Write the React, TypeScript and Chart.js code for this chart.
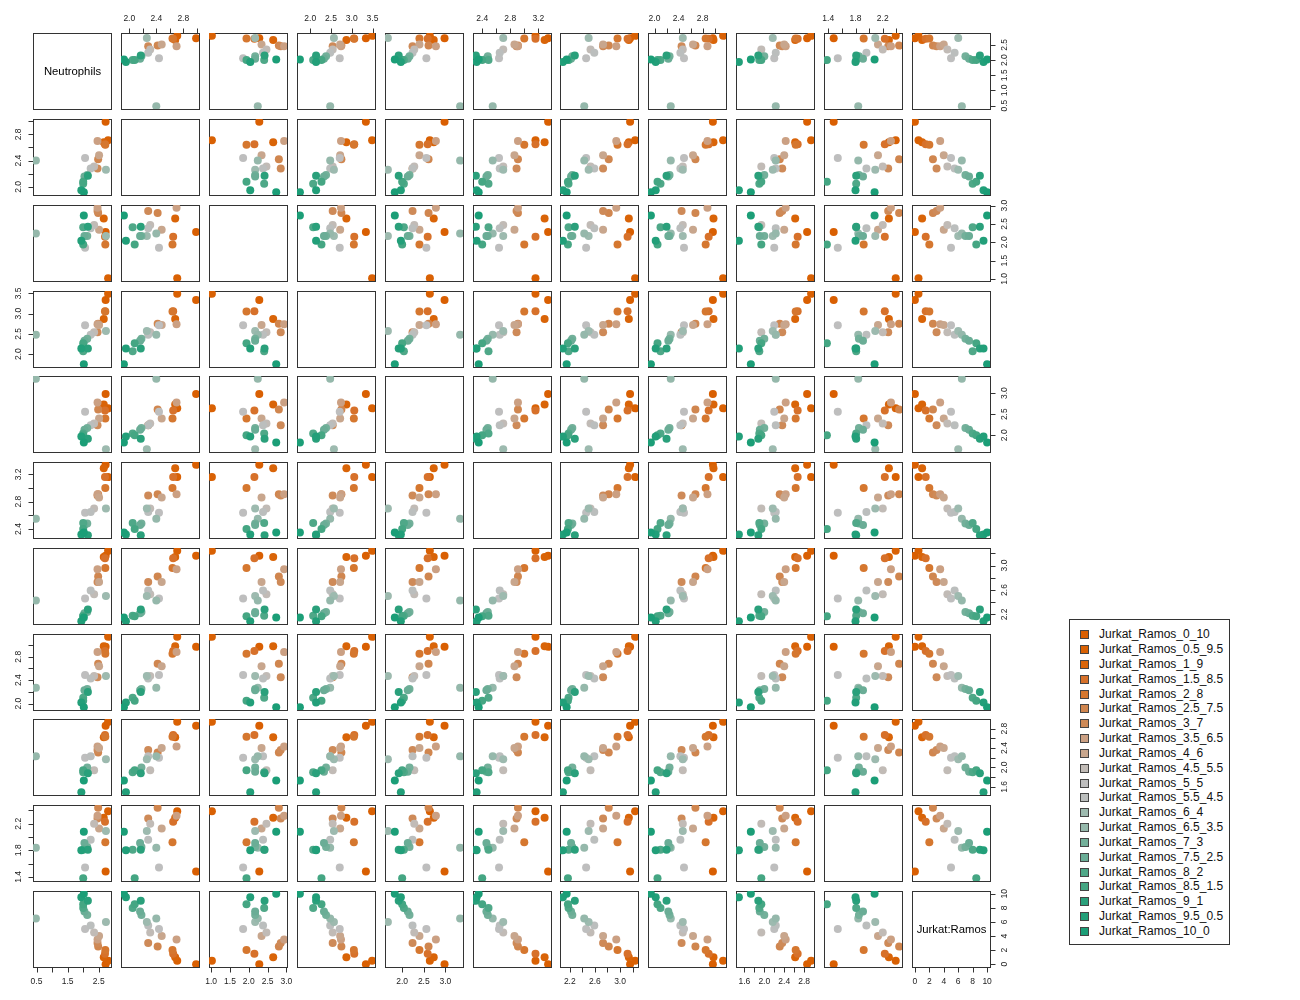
import React, { useEffect, useRef } from "react";
import { Chart, registerables } from "chart.js";

Chart.register(...registerables);

// ---------- data ----------
const groupNames = [
  "Jurkat_Ramos_0_10", "Jurkat_Ramos_0.5_9.5", "Jurkat_Ramos_1_9", "Jurkat_Ramos_1.5_8.5",
  "Jurkat_Ramos_2_8", "Jurkat_Ramos_2.5_7.5", "Jurkat_Ramos_3_7", "Jurkat_Ramos_3.5_6.5",
  "Jurkat_Ramos_4_6", "Jurkat_Ramos_4.5_5.5", "Jurkat_Ramos_5_5", "Jurkat_Ramos_5.5_4.5",
  "Jurkat_Ramos_6_4", "Jurkat_Ramos_6.5_3.5", "Jurkat_Ramos_7_3", "Jurkat_Ramos_7.5_2.5",
  "Jurkat_Ramos_8_2", "Jurkat_Ramos_8.5_1.5", "Jurkat_Ramos_9_1", "Jurkat_Ramos_9.5_0.5",
  "Jurkat_Ramos_10_0",
];

const groupColors = [
  "#D95F02", "#D96104", "#D96408", "#D7712A", "#D5772F", "#D0864F", "#CE8A58",
  "#CBA083", "#C8A68D", "#C1BBB6", "#BEBEBE", "#BBBEBD", "#9DBAAF", "#95B8AB",
  "#73B09A", "#6AAD96", "#4FA888", "#45A683", "#2AA07B", "#229F79", "#1B9E77",
];

const neutrophils = [2.72, 2.8, 2.66, 2.7, 2.71, 2.48, 2.46, 2.46, 2.51, 2.35, 2.06, 2.24, 2.73, 0.48, 2.13, 2.04, 2.0, 2.0, 2.15, 1.94, 2.02];
const marker2 = [2.99, 2.71, 2.68, 2.65, 2.64, 2.42, 2.28, 2.7, 2.48, 2.31, 2.44, 2.28, 2.26, 2.4, 2.18, 2.16, 2.05, 2.08, 2.17, 1.95, 1.92];
const marker3 = [2.28, 1.02, 2.65, 2.15, 1.94, 2.8, 2.85, 2.94, 2.34, 2.47, 1.85, 2.38, 2.17, 2.24, 2.17, 2.17, 2.41, 1.94, 2.42, 2.04, 2.73];
const marker4 = [3.34, 3.49, 2.87, 3.06, 3.05, 2.75, 2.54, 2.74, 2.72, 2.54, 2.71, 2.48, 2.57, 2.48, 2.38, 2.33, 2.07, 2.27, 2.14, 2.14, 1.75];
const marker5 = [2.98, 2.64, 2.73, 2.59, 2.4, 2.61, 2.24, 2.78, 2.4, 2.28, 2.56, 2.24, 1.67, 3.34, 2.17, 2.13, 2.04, 2.0, 1.92, 1.97, 1.83];
const marker6 = [3.34, 3.16, 3.29, 3.16, 3.0, 2.91, 2.89, 2.91, 2.86, 2.7, 2.64, 2.65, 2.7, 2.55, 2.48, 2.46, 2.49, 2.4, 2.31, 2.32, 2.35];
const marker7 = [3.16, 3.24, 3.14, 3.12, 2.96, 2.82, 2.73, 2.94, 2.73, 2.53, 2.46, 2.59, 2.5, 2.43, 2.24, 2.22, 2.18, 2.17, 2.28, 2.09, 2.15];
const marker8 = [2.97, 3.14, 2.98, 2.9, 2.85, 2.68, 2.45, 2.88, 2.64, 2.47, 2.49, 2.43, 2.47, 2.27, 2.25, 2.23, 2.1, 2.05, 2.2, 2.02, 1.94];
const marker9 = [2.86, 2.94, 2.62, 2.67, 2.63, 2.31, 2.36, 2.43, 2.4, 1.94, 2.2, 2.23, 2.17, 2.23, 2.0, 1.91, 1.9, 1.94, 1.88, 1.49, 1.73];
const marker10 = [1.48, 2.39, 2.29, 2.23, 1.92, 2.44, 2.28, 2.32, 2.13, 2.2, 1.54, 1.96, 2.09, 1.84, 1.85, 1.91, 1.81, 1.38, 1.81, 1.8, 2.08];
const jurkatRamos = [0, 0.5, 1, 1.5, 2, 2.5, 3, 3.5, 4, 4.5, 5, 5.5, 6, 6.5, 7, 7.5, 8, 8.5, 9, 9.5, 10];

const variables = [neutrophils, marker2, marker3, marker4, marker5, marker6, marker7, marker8, marker9, marker10, jurkatRamos];
const variableLabels = ["Neutrophils", "", "", "", "", "", "", "", "", "", "Jurkat:Ramos"];

const tickValues = [
  [0.5, 1, 1.5, 2, 2.5],
  [2.0, 2.2, 2.4, 2.6, 2.8, 3.0],
  [1.0, 1.5, 2.0, 2.5, 3.0],
  [2.0, 2.5, 3.0, 3.5],
  [2.0, 2.5, 3.0],
  [2.4, 2.6, 2.8, 3.0, 3.2],
  [2.2, 2.4, 2.6, 2.8, 3.0, 3.2],
  [2.0, 2.2, 2.4, 2.6, 2.8, 3.0],
  [1.6, 1.8, 2.0, 2.2, 2.4, 2.6, 2.8],
  [1.4, 1.6, 1.8, 2.0, 2.2, 2.4],
  [0, 2, 4, 6, 8, 10],
];
const xTickLabels = [
  ["0.5", "1.5", "2.5"],
  ["2.0", "2.4", "2.8"],
  ["1.0", "1.5", "2.0", "2.5", "3.0"],
  ["2.0", "2.5", "3.0", "3.5"],
  ["2.0", "2.5", "3.0"],
  ["2.4", "2.8", "3.2"],
  ["2.2", "2.6", "3.0"],
  ["2.0", "2.4", "2.8"],
  ["1.6", "2.0", "2.4", "2.8"],
  ["1.4", "1.8", "2.2"],
  ["0", "2", "4", "6", "8", "10"],
];
const yTickLabels = [
  ["0.5", "1.0", "1.5", "2.0", "2.5"],
  ["2.0", "2.4", "2.8"],
  ["1.0", "1.5", "2.0", "2.5", "3.0"],
  ["2.0", "2.5", "3.0", "3.5"],
  ["2.0", "2.5", "3.0"],
  ["2.4", "2.8", "3.2"],
  ["2.2", "2.6", "3.0"],
  ["2.0", "2.4", "2.8"],
  ["1.6", "2.0", "2.4", "2.8"],
  ["1.4", "1.8", "2.2"],
  ["0", "2", "4", "6", "8", "10"],
];

// ---------- layout ----------
const N = 11;
const PANEL_W = 78;
const PANEL_H = 76;
const M = 26;
const X0 = 33;
const Y0 = 33.3;
const DX = 87.9;
const DY = 85.75;
const FONT = '"Liberation Sans", Arial, Helvetica, sans-serif';

const panelLeft = (c: number) => Math.round(X0 + c * DX);
const panelTop = (r: number) => Math.round(Y0 + r * DY);

function usrRange(v: number[]) {
  const lo = Math.min(...v);
  const hi = Math.max(...v);
  const d = (hi - lo) * 0.04;
  return [lo - d, hi + d];
}

function makePanelPlugin(r: number, c: number) {
  return {
    id: "pairsPanel",
    beforeDatasetsDraw(chart: any) {
      const { ctx, chartArea: a } = chart;
      const xs = chart.scales.x;
      const ys = chart.scales.y;
      ctx.save();
      ctx.strokeStyle = "#333333";
      ctx.lineWidth = 1;
      ctx.strokeRect(a.left + 0.5, a.top + 0.5, a.right - a.left, a.bottom - a.top);

      if (r === c && variableLabels[r]) {
        ctx.fillStyle = "#000";
        ctx.font = `11.3px ${FONT}`;
        ctx.textAlign = "center";
        ctx.textBaseline = "middle";
        ctx.fillText(variableLabels[r], (a.left + a.right) / 2 + 0.5, (a.top + a.bottom) / 2 + 1);
      }

      ctx.fillStyle = "#222";
      ctx.strokeStyle = "#333333";
      ctx.font = `8.5px ${FONT}`;
      ctx.textAlign = "center";
      ctx.textBaseline = "middle";

      const topAxis = r === 0 && c % 2 === 1;
      const bottomAxis = r === N - 1 && c % 2 === 0;
      if (topAxis || bottomAxis) {
        const y0 = topAxis ? a.top + 0.5 : a.bottom + 0.5;
        const dir = topAxis ? -1 : 1;
        const ticks = tickValues[c].filter((v) => v >= xs.min && v <= xs.max);
        ctx.beginPath();
        ctx.moveTo(Math.round(xs.getPixelForValue(ticks[0])) + 0.5, y0);
        ctx.lineTo(Math.round(xs.getPixelForValue(ticks[ticks.length - 1])) + 0.5, y0);
        ticks.forEach((v) => {
          const px = Math.round(xs.getPixelForValue(v)) + 0.5;
          ctx.moveTo(px, y0);
          ctx.lineTo(px, y0 + dir * 5);
        });
        ctx.stroke();
        xTickLabels[c].forEach((s) => {
          const v = parseFloat(s);
          if (v < xs.min || v > xs.max) return;
          ctx.fillText(s, xs.getPixelForValue(v), y0 + dir * 14.5);
        });
      }

      const leftAxis = c === 0 && r % 2 === 1;
      const rightAxis = c === N - 1 && r % 2 === 0;
      if (leftAxis || rightAxis) {
        const x0 = leftAxis ? a.left + 0.5 : a.right + 0.5;
        const dir = leftAxis ? -1 : 1;
        const ticks = tickValues[r].filter((v) => v >= ys.min && v <= ys.max);
        ctx.beginPath();
        ctx.moveTo(x0, Math.round(ys.getPixelForValue(ticks[0])) + 0.5);
        ctx.lineTo(x0, Math.round(ys.getPixelForValue(ticks[ticks.length - 1])) + 0.5);
        ticks.forEach((v) => {
          const py = Math.round(ys.getPixelForValue(v)) + 0.5;
          ctx.moveTo(x0, py);
          ctx.lineTo(x0 + dir * 5, py);
        });
        ctx.stroke();
        yTickLabels[r].forEach((s) => {
          const v = parseFloat(s);
          if (v < ys.min || v > ys.max) return;
          ctx.save();
          ctx.translate(x0 + dir * 14.5, ys.getPixelForValue(v));
          ctx.rotate(-Math.PI / 2);
          ctx.fillText(s, 0, 0);
          ctx.restore();
        });
      }
      ctx.restore();
    },
  };
}

const panels: { r: number; c: number }[] = [];
for (let r = 0; r < N; r++) for (let c = 0; c < N; c++) panels.push({ r, c });

export default function App() {
  const canvasRefs = useRef<(HTMLCanvasElement | null)[]>([]);

  useEffect(() => {
    const charts: Chart[] = [];
    panels.forEach(({ r, c }, i) => {
      const canvas = canvasRefs.current[i];
      if (!canvas) return;
      const [xmin, xmax] = usrRange(variables[c]);
      const [ymin, ymax] = usrRange(variables[r]);
      const points = variables[c].map((xv, k) => ({ x: xv, y: variables[r][k] }));
      const chart = new Chart(canvas, {
        type: "scatter",
        data: {
          datasets:
            r === c
              ? []
              : [
                  {
                    data: points,
                    pointBackgroundColor: groupColors,
                    pointBorderWidth: 0,
                    pointRadius: 4,
                    pointHoverRadius: 4,
                    showLine: false,
                    clip: 0,
                  } as any,
                ],
        },
        options: {
          animation: false,
          responsive: false,
          devicePixelRatio: 1,
          events: [],
          layout: { padding: M },
          plugins: { legend: { display: false }, tooltip: { enabled: false } },
          scales: {
            x: { type: "linear", display: false, min: xmin, max: xmax },
            y: { type: "linear", display: false, min: ymin, max: ymax },
          },
        },
        plugins: [makePanelPlugin(r, c)],
      });
      charts.push(chart);
    });
    return () => charts.forEach((ch) => ch.destroy());
  }, []);

  const legendLeft = 1069;
  const legendTop = 619;
  const rowStart = 634.3;
  const rowStep = 14.83;

  return (
    <div style={{ position: "absolute", left: 0, top: 0, width: 1300, height: 1000, background: "#fff", overflow: "hidden" }}>
      {panels.map(({ r, c }, i) => (
        <canvas
          key={i}
          ref={(el) => {
            canvasRefs.current[i] = el;
          }}
          width={PANEL_W + 2 * M}
          height={PANEL_H + 2 * M}
          style={{
            position: "absolute",
            left: panelLeft(c) - M,
            top: panelTop(r) - M,
            width: PANEL_W + 2 * M,
            height: PANEL_H + 2 * M,
          }}
        />
      ))}
      <div
        style={{
          position: "absolute",
          left: legendLeft,
          top: legendTop,
          width: 161,
          height: 326,
          border: "1px solid #333",
          boxSizing: "border-box",
        }}
      />
      {groupNames.map((name, k) => {
        const cy = rowStart + k * rowStep;
        return (
          <React.Fragment key={name}>
            <div
              style={{
                position: "absolute",
                left: 1080,
                top: Math.round(cy - 4),
                width: 9,
                height: 9,
                background: groupColors[k],
                border: "1px solid #444",
                boxSizing: "border-box",
              }}
            />
            <div
              style={{
                position: "absolute",
                left: 1099,
                top: cy - 7,
                height: 14,
                lineHeight: "14px",
                fontSize: 12,
                fontFamily: FONT,
                color: "#111",
                whiteSpace: "nowrap",
              }}
            >
              {name}
            </div>
          </React.Fragment>
        );
      })}
    </div>
  );
}
